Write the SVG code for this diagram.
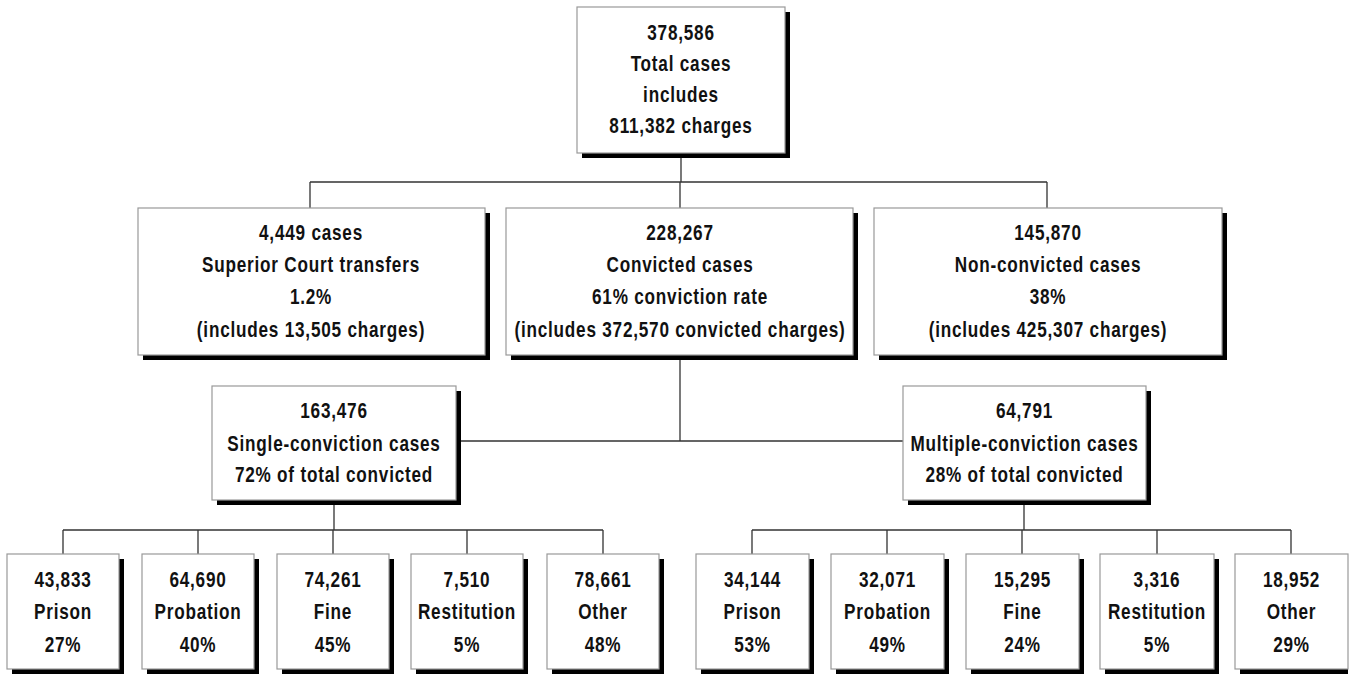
<svg xmlns="http://www.w3.org/2000/svg" width="1351" height="675" viewBox="0 0 1351 675">
<style>
  .box{fill:#fff;stroke:#999;stroke-width:1.2}
  .sh{fill:#000}
  .t{font-family:"Liberation Sans",Arial,sans-serif;font-weight:bold;font-size:22px;letter-spacing:1px;fill:#111;text-anchor:middle}
  .c{stroke:#333;stroke-width:1.3;fill:none}
</style>
<rect width="1351" height="675" fill="#fff"/>
<g id="connectors">
  <path class="c" d="M681 158V182M310 182H1047M310 182V208M680 182V208M1047 182V208"/>
  <path class="c" d="M680 360V441M456 441H903"/>
  <path class="c" d="M334 505V530M63 530H603M63 530V554M198 530V554M333 530V554M467 530V554M603 530V554"/>
  <path class="c" d="M1024 505V530M752 530H1291M752 530V554M887 530V554M1022 530V554M1157 530V554M1291 530V554"/>
</g>
<g id="n-total">
  <rect class="sh" x="582" y="12" width="208" height="146"/>
  <rect class="box" x="577" y="7" width="208" height="146"/>
  <g transform="translate(681 0) scale(0.78 1)">
    <text class="t" x="0" y="40">378,586</text>
    <text class="t" x="0" y="71">Total cases</text>
    <text class="t" x="0" y="102">includes</text>
    <text class="t" x="0" y="133">811,382 charges</text>
  </g>
</g>
<g id="n-superior">
  <rect class="sh" x="143" y="213" width="347" height="147"/>
  <rect class="box" x="138" y="208" width="347" height="147"/>
  <g transform="translate(311 0) scale(0.78 1)">
    <text class="t" x="0" y="240">4,449 cases</text>
    <text class="t" x="0" y="272">Superior Court transfers</text>
    <text class="t" x="0" y="304">1.2%</text>
    <text class="t" x="0" y="337">(includes 13,505 charges)</text>
  </g>
</g>
<g id="n-convicted">
  <rect class="sh" x="511" y="213" width="347" height="147"/>
  <rect class="box" x="506" y="208" width="347" height="147"/>
  <g transform="translate(680 0) scale(0.78 1)">
    <text class="t" x="0" y="240">228,267</text>
    <text class="t" x="0" y="272">Convicted cases</text>
    <text class="t" x="0" y="304">61% conviction rate</text>
    <text class="t" x="0" y="337">(includes 372,570 convicted charges)</text>
  </g>
</g>
<g id="n-nonconvicted">
  <rect class="sh" x="879" y="213" width="348" height="147"/>
  <rect class="box" x="874" y="208" width="348" height="147"/>
  <g transform="translate(1048 0) scale(0.78 1)">
    <text class="t" x="0" y="240">145,870</text>
    <text class="t" x="0" y="272">Non-convicted cases</text>
    <text class="t" x="0" y="304">38%</text>
    <text class="t" x="0" y="337">(includes 425,307 charges)</text>
  </g>
</g>
<g id="n-single">
  <rect class="sh" x="217" y="391" width="244" height="114"/>
  <rect class="box" x="212" y="386" width="244" height="114"/>
  <g transform="translate(334 0) scale(0.78 1)">
    <text class="t" x="0" y="418">163,476</text>
    <text class="t" x="0" y="451">Single-conviction cases</text>
    <text class="t" x="0" y="482">72% of total convicted</text>
  </g>
</g>
<g id="n-multiple">
  <rect class="sh" x="908" y="391" width="243" height="114"/>
  <rect class="box" x="903" y="386" width="243" height="114"/>
  <g transform="translate(1024.5 0) scale(0.78 1)">
    <text class="t" x="0" y="418">64,791</text>
    <text class="t" x="0" y="451">Multiple-conviction cases</text>
    <text class="t" x="0" y="482">28% of total convicted</text>
  </g>
</g>
<g id="n-s-prison">
  <rect class="sh" x="12" y="559" width="112" height="115"/>
  <rect class="box" x="7" y="554" width="112" height="115"/>
  <g transform="translate(63 0) scale(0.78 1)">
    <text class="t" x="0" y="587">43,833</text><text class="t" x="0" y="619">Prison</text><text class="t" x="0" y="652">27%</text>
  </g>
</g>
<g id="n-s-probation">
  <rect class="sh" x="147" y="559" width="112" height="115"/>
  <rect class="box" x="142" y="554" width="112" height="115"/>
  <g transform="translate(198 0) scale(0.78 1)">
    <text class="t" x="0" y="587">64,690</text><text class="t" x="0" y="619">Probation</text><text class="t" x="0" y="652">40%</text>
  </g>
</g>
<g id="n-s-fine">
  <rect class="sh" x="282" y="559" width="112" height="115"/>
  <rect class="box" x="277" y="554" width="112" height="115"/>
  <g transform="translate(333 0) scale(0.78 1)">
    <text class="t" x="0" y="587">74,261</text><text class="t" x="0" y="619">Fine</text><text class="t" x="0" y="652">45%</text>
  </g>
</g>
<g id="n-s-restitution">
  <rect class="sh" x="416" y="559" width="112" height="115"/>
  <rect class="box" x="411" y="554" width="112" height="115"/>
  <g transform="translate(467 0) scale(0.78 1)">
    <text class="t" x="0" y="587">7,510</text><text class="t" x="0" y="619">Restitution</text><text class="t" x="0" y="652">5%</text>
  </g>
</g>
<g id="n-s-other">
  <rect class="sh" x="552" y="559" width="112" height="115"/>
  <rect class="box" x="547" y="554" width="112" height="115"/>
  <g transform="translate(603 0) scale(0.78 1)">
    <text class="t" x="0" y="587">78,661</text><text class="t" x="0" y="619">Other</text><text class="t" x="0" y="652">48%</text>
  </g>
</g>
<g id="n-m-prison">
  <rect class="sh" x="701" y="559" width="113" height="115"/>
  <rect class="box" x="696" y="554" width="113" height="115"/>
  <g transform="translate(752.5 0) scale(0.78 1)">
    <text class="t" x="0" y="587">34,144</text><text class="t" x="0" y="619">Prison</text><text class="t" x="0" y="652">53%</text>
  </g>
</g>
<g id="n-m-probation">
  <rect class="sh" x="836" y="559" width="113" height="115"/>
  <rect class="box" x="831" y="554" width="113" height="115"/>
  <g transform="translate(887.5 0) scale(0.78 1)">
    <text class="t" x="0" y="587">32,071</text><text class="t" x="0" y="619">Probation</text><text class="t" x="0" y="652">49%</text>
  </g>
</g>
<g id="n-m-fine">
  <rect class="sh" x="971" y="559" width="113" height="115"/>
  <rect class="box" x="966" y="554" width="113" height="115"/>
  <g transform="translate(1022.5 0) scale(0.78 1)">
    <text class="t" x="0" y="587">15,295</text><text class="t" x="0" y="619">Fine</text><text class="t" x="0" y="652">24%</text>
  </g>
</g>
<g id="n-m-restitution">
  <rect class="sh" x="1105" y="559" width="114" height="115"/>
  <rect class="box" x="1100" y="554" width="114" height="115"/>
  <g transform="translate(1157 0) scale(0.78 1)">
    <text class="t" x="0" y="587">3,316</text><text class="t" x="0" y="619">Restitution</text><text class="t" x="0" y="652">5%</text>
  </g>
</g>
<g id="n-m-other">
  <rect class="sh" x="1240" y="559" width="108" height="115"/>
  <rect class="box" x="1235" y="554" width="113" height="115"/>
  <g transform="translate(1291.5 0) scale(0.78 1)">
    <text class="t" x="0" y="587">18,952</text><text class="t" x="0" y="619">Other</text><text class="t" x="0" y="652">29%</text>
  </g>
</g>
</svg>
